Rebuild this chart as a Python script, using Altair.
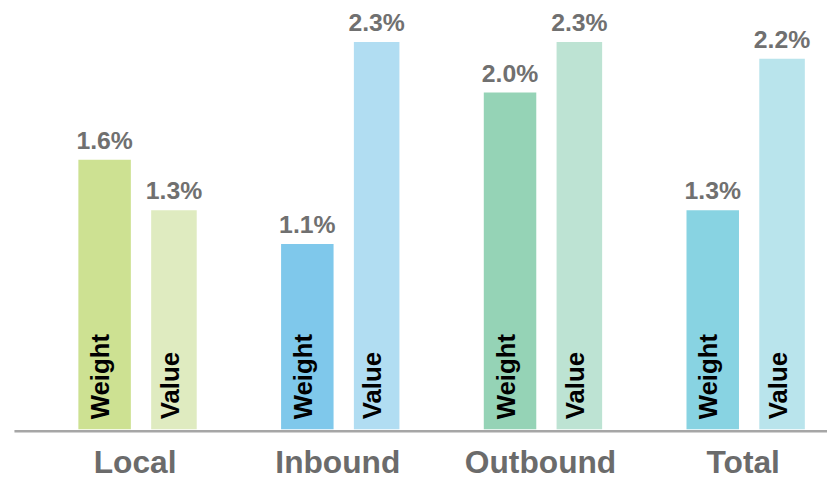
import altair as alt
import pandas as pd

categories = ["Local", "Inbound", "Outbound", "Total"]
series = ["Weight", "Value"]
weight_pct = [1.6, 1.1, 2.0, 1.3]
value_pct = [1.3, 2.3, 2.3, 2.2]
colors = {
    "Local-Weight": "#cde192", "Local-Value": "#dfebc0",
    "Inbound-Weight": "#7fc8eb", "Inbound-Value": "#b1ddf2",
    "Outbound-Weight": "#95d3b6", "Outbound-Value": "#bde3d3",
    "Total-Weight": "#88d3e2", "Total-Value": "#b9e4ec",
}

rows = []
for c, w, v in zip(categories, weight_pct, value_pct):
    rows.append({"category": c, "series": "Weight", "pct": w, "key": f"{c}-Weight"})
    rows.append({"category": c, "series": "Value", "pct": v, "key": f"{c}-Value"})
df = pd.DataFrame(rows)

W, H = 821, 419

x = alt.X("category:N", sort=categories, title=None,
          scale=alt.Scale(paddingInner=0.316, paddingOuter=0.1635, align=0.845, round=False),
          axis=alt.Axis(labelAngle=0, labelFont="Liberation Sans", labelFontWeight="bold",
                        labelFontSize=32, labelColor="#6b6b6b", labelBaseline="alphabetic",
                        labelPadding=42, tickOffset=-4.7, ticks=False, tickSize=0,
                        domainColor="#a6a6a6", domainWidth=2.5, offset=1.5, grid=False))
xo = alt.XOffset("series:N", sort=series,
                 scale=alt.Scale(paddingInner=0, paddingOuter=0, round=False))
y = alt.Y("pct:Q", axis=None, scale=alt.Scale(domain=[0, 2.465], nice=False, zero=True))

base = alt.Chart(df)

bars = base.mark_bar().encode(
    x=x, xOffset=xo, y=y,
    color=alt.Color("key:N", scale=alt.Scale(domain=list(colors.keys()), range=list(colors.values())), legend=None),
    size=alt.condition(alt.datum.series == "Weight", alt.value(53), alt.value(46)),
)

vals = base.transform_calculate(lbl="format(datum.pct, '.1f') + '%'").mark_text(
    font="Liberation Sans", fontWeight="bold", fontSize=25, color="#707070",
    align="center", baseline="alphabetic", dy=-11,
).encode(x=x, xOffset=xo, y=y, text="lbl:N")

inner = base.mark_text(
    font="Liberation Sans", fontWeight="bold", fontSize=26, color="#000000",
    angle=270, align="left", baseline="middle", dx=10, dy=-3.3,
).encode(x=x, xOffset=xo, y=alt.datum(0), text="series:N")

chart = alt.layer(bars, vals, inner).properties(
    width=W, height=H,
    autosize=alt.AutoSizeParams(type="none"),
    padding={"left": 6, "top": 4, "right": 0, "bottom": 48},
).configure_view(strokeWidth=0)

chart.save("out.html", embed_options={"renderer": "svg", "actions": False})
